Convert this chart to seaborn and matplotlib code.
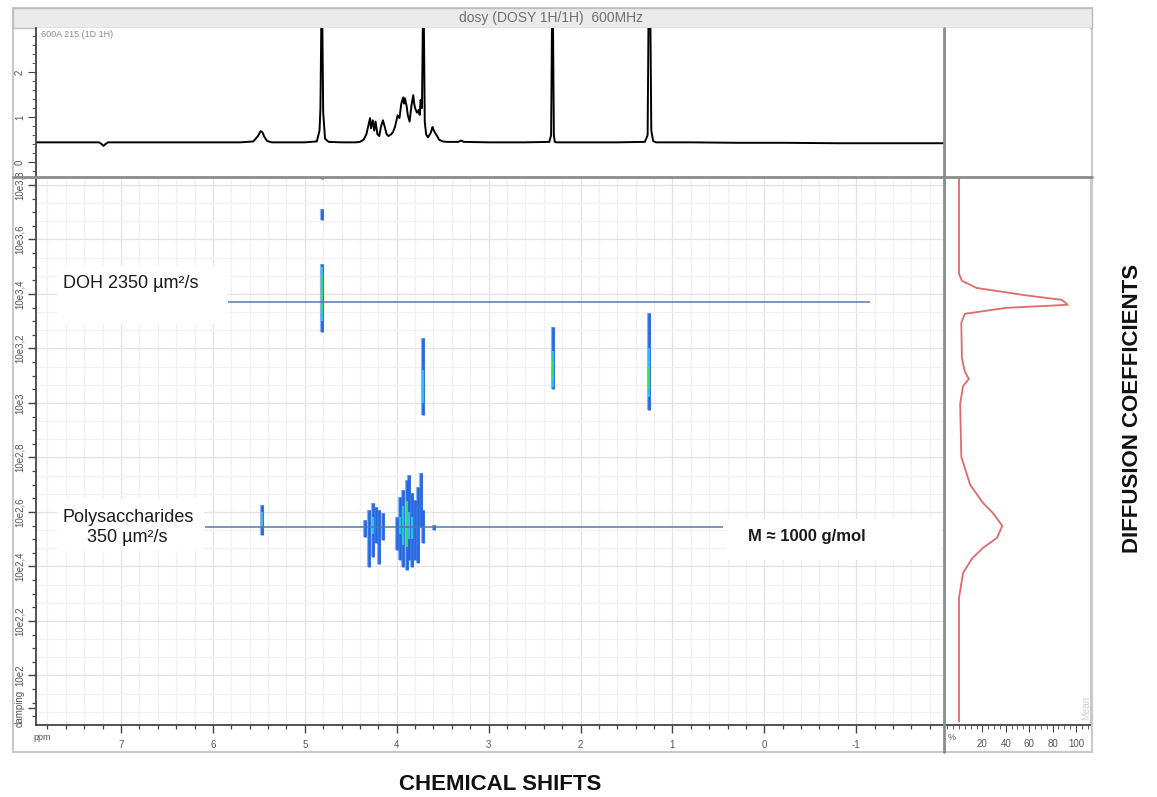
import numpy as np
import pandas as pd
import matplotlib
matplotlib.use("Agg")
import matplotlib.pyplot as plt
import seaborn as sns
from matplotlib.patches import Rectangle
from matplotlib.lines import Line2D
from matplotlib.ticker import MultipleLocator

# ---------------- data ----------------
# 1D 1H spectrum (ppm, intensity) vertices
spec_ppm = [7.92, 7.60, 7.24, 7.21, 7.19, 7.17, 7.14, 6.80, 6.20, 5.70, 5.56, 5.51, 5.48, 5.46, 5.44, 5.41, 5.36,
            5.00, 4.87, 4.84, 4.83, 4.82, 4.81, 4.80, 4.78, 4.74, 4.60, 4.45, 4.40, 4.36, 4.33, 4.31, 4.29, 4.28,
            4.26, 4.245, 4.23, 4.21, 4.19, 4.17, 4.15, 4.13, 4.11, 4.09, 4.06, 4.04, 4.02, 4.00, 3.99, 3.97,
            3.95, 3.93, 3.92, 3.91, 3.89, 3.88, 3.86, 3.84, 3.82, 3.81, 3.80, 3.78, 3.76, 3.75, 3.74, 3.725,
            3.715, 3.705, 3.695, 3.68, 3.66, 3.63, 3.61, 3.60, 3.58, 3.56, 3.54, 3.50, 3.45, 3.33, 3.30, 3.27,
            3.00, 2.60, 2.34, 2.32, 2.31, 2.30, 2.29, 2.28, 2.26, 2.00, 1.60, 1.30, 1.27, 1.26, 1.25, 1.24,
            1.23, 1.21, 1.18, 0.80, 0.30, -0.20, -0.80, -1.40, -1.955]
spec_int = [0.44, 0.44, 0.44, 0.40, 0.36, 0.40, 0.44, 0.44, 0.44, 0.44, 0.46, 0.58, 0.69, 0.66, 0.56, 0.47, 0.44,
            0.44, 0.46, 0.70, 1.20, 3.20, 3.20, 1.10, 0.52, 0.45, 0.44, 0.44, 0.45, 0.50, 0.62, 0.80, 0.98, 0.75,
            0.93, 0.70, 0.90, 0.62, 0.58, 0.80, 0.93, 0.78, 0.62, 0.58, 0.62, 0.67, 0.78, 0.95, 1.04, 0.98,
            1.30, 1.44, 1.30, 1.42, 1.22, 1.05, 0.90, 1.25, 1.49, 1.30, 1.20, 1.10, 1.16, 1.05, 1.38, 1.20,
            3.20, 3.20, 0.90, 0.62, 0.55, 0.65, 0.78, 0.72, 0.64, 0.58, 0.50, 0.46, 0.45, 0.45, 0.48, 0.45,
            0.44, 0.44, 0.45, 0.60, 3.20, 3.20, 0.60, 0.45, 0.44, 0.44, 0.44, 0.45, 0.60, 3.20, 3.20, 3.20,
            0.70, 0.47, 0.44, 0.44, 0.43, 0.43, 0.42, 0.42, 0.42]

# DOSY cross-peak streaks: ppm, log10(D) low, log10(D) high
streak_ppm = [4.815, 4.815, 4.815, 3.71, 2.30, 1.25, 5.47,
              4.345, 4.298, 4.261, 4.225, 4.189, 4.152,
              4.000, 3.964, 3.928, 3.891, 3.866, 3.837, 3.801, 3.765, 3.739, 3.710, 3.594]
streak_lo = [3.26, 3.67, 3.820, 2.956, 3.05, 2.975, 2.516,
             2.508, 2.398, 2.436, 2.485, 2.410, 2.497,
             2.461, 2.424, 2.399, 2.387, 2.424, 2.399, 2.424, 2.412, 2.546, 2.485, 2.534]
streak_hi = [3.51, 3.71, 3.830, 3.24, 3.28, 3.33, 2.626,
             2.571, 2.607, 2.632, 2.619, 2.607, 2.595,
             2.583, 2.656, 2.681, 2.717, 2.736, 2.669, 2.644, 2.693, 2.742, 2.607, 2.552]
# brighter contour cores: ppm, logD low, logD high, level (1 = cyan, 2 = green)
core_ppm = [4.815, 4.815, 3.71, 2.30, 2.30, 1.25, 1.25, 5.47, 4.261, 3.928, 3.891, 3.866, 3.837, 3.964]
core_lo = [3.30, 3.34, 3.00, 3.06, 3.09, 3.02, 3.05, 2.55, 2.52, 2.48, 2.47, 2.50, 2.50, 2.52]
core_hi = [3.50, 3.47, 3.12, 3.19, 3.16, 3.20, 3.13, 2.60, 2.58, 2.62, 2.64, 2.60, 2.58, 2.58]
core_level = [1, 2, 1, 1, 2, 1, 2, 1, 1, 1, 2, 1, 1, 1]

# diffusion projection (intensity %, log10 D)
proj_logd = [3.83, 3.474, 3.448, 3.422, 3.396, 3.378, 3.360, 3.349, 3.327, 3.294, 3.165, 3.114, 3.088,
             3.062, 2.996, 2.802, 2.700, 2.633, 2.596, 2.549, 2.505, 2.468, 2.428, 2.376, 2.284, 1.83]
proj_int = [0.0, 0.0, 2.5, 15.0, 55.0, 88.0, 93.0, 41.0, 5.0, 2.0, 2.5, 5.0, 8.5,
            3.5, 1.0, 2.0, 9.5, 20.5, 29.0, 37.0, 32.5, 20.5, 11.0, 3.5, 0.0, 0.0]

# reference diffusion lines (µm²/s) and their ppm extent
ref_D = [2350, 350]
ref_ppm_from = [5.84, 6.09]
ref_ppm_to = [-1.15, 0.45]

# axis tick labels
main_yticks = [3.8, 3.6, 3.4, 3.2, 3.0, 2.8, 2.6, 2.4, 2.2, 2.0, 1.88]
main_ylabels = ["10e3,8", "10e3,6", "10e3,4", "10e3,2", "10e3", "10e2,8", "10e2,6", "10e2,4",
                "10e2,2", "10e2", "damping"]
ppm_ticks = [7, 6, 5, 4, 3, 2, 1, 0, -1]
spec_yticks = [0, 1, 2]
proj_ticks = [20, 40, 60, 80, 100]

# ---------------- figure ----------------
sns.set_style("white")
plt.rcParams['font.family'] = ['Liberation Sans', 'DejaVu Sans']

W, H = 1157, 797
fig = plt.figure(figsize=(W / 100, H / 100), dpi=100)


def ax_at(x0, y0, x1, y1):
    return fig.add_axes([x0 / W, 1 - y1 / H, (x1 - x0) / W, (y1 - y0) / H])


def fx(px):
    return px / W


def fy(py):
    return 1 - py / H


# outer frame and title bar
fig.add_artist(Rectangle((fx(13), fy(752)), fx(1092) - fx(13), fy(8) - fy(752), transform=fig.transFigure,
                         facecolor='none', edgecolor='#c9c9c9', lw=1.5, zorder=0))
fig.add_artist(Rectangle((fx(13), fy(28)), fx(1092) - fx(13), fy(8) - fy(28), transform=fig.transFigure,
                         facecolor='#ebebeb', edgecolor='#bdbdbd', lw=1.0, zorder=0))
fig.text(fx(551), fy(18), "dosy (DOSY 1H/1H)  600MHz", ha='center', va='center', fontsize=10, color='#6f6f6f')

tick_col = '#555555'
XL = (7.925, -1.955)
YL = (1.818, 3.829)

# ---------- main DOSY axes ----------
ax = ax_at(36, 177, 944, 725)
ax.set_xlim(*XL)
ax.set_ylim(*YL)
# grid
for g in np.arange(-1.8, 7.95, 0.2):
    major = abs(g - round(g)) < 1e-6
    ax.axvline(g, color='#e3e3e3' if major else '#f1f1f1', lw=0.9, zorder=0)
for g in np.arange(1.8, 3.84, 0.2 / 3):
    major = abs(g * 5 - round(g * 5)) < 1e-6
    ax.axhline(g, color='#e3e3e3' if major else '#f1f1f1', lw=0.9, zorder=0)

streaks = pd.DataFrame({"ppm": streak_ppm, "lo": streak_lo, "hi": streak_hi})
cores = pd.DataFrame({"ppm": core_ppm, "lo": core_lo, "hi": core_hi, "level": core_level})
ax.vlines(streaks.ppm, streaks.lo, streaks.hi, colors='#8ab4f2', lw=3.0, zorder=2)
ax.vlines(streaks.ppm, streaks.lo, streaks.hi, colors='#2466e0', lw=1.9, zorder=2)
c1 = cores[cores.level == 1]
c2 = cores[cores.level == 2]
ax.vlines(c1.ppm, c1.lo, c1.hi, colors='#2bc3ea', lw=1.4, zorder=3)
ax.vlines(c2.ppm, c2.lo, c2.hi, colors='#35e05a', lw=1.4, zorder=4)

for d, a, b in zip(ref_D, ref_ppm_from, ref_ppm_to):
    ax.hlines(np.log10(d), a, b, colors='#5577aa', lw=1.1, zorder=5)

ax.set_xticks(ppm_ticks, [str(t) for t in ppm_ticks])
ax.xaxis.set_minor_locator(MultipleLocator(0.2))
ax.set_yticks(main_yticks, main_ylabels, rotation=90, va='center')
ax.yaxis.set_minor_locator(MultipleLocator(0.05))
ax.tick_params(which='both', direction='out', bottom=True, left=True, colors='#444444',
               labelcolor=tick_col, labelsize=7)
ax.tick_params(which='major', length=6, width=1.0)
ax.tick_params(which='minor', length=3, width=0.9)
ax.tick_params(axis='x', which='major', pad=5)
ax.tick_params(axis='y', which='major', pad=2)
for s in ['top', 'right']:
    ax.spines[s].set_visible(False)
for s in ['left', 'bottom']:
    ax.spines[s].set_color('#444444')
    ax.spines[s].set_linewidth(1.3)
ax.set_xlabel("")
ax.set_ylabel("")
fig.text(fx(42), fy(737), "ppm", fontsize=6.5, color=tick_col, ha='center', va='center')

# white annotation boxes
for (x0, y0, x1, y1) in [(57, 266, 228, 324), (57, 499, 204, 551), (727, 519, 940, 560)]:
    ax.add_patch(Rectangle((fx(x0), fy(y1)), fx(x1) - fx(x0), fy(y0) - fy(y1), transform=fig.transFigure,
                           facecolor='white', edgecolor='none', zorder=6, clip_on=False))
fig.text(fx(63), fy(284), "DOH 2350 µm²/s", fontsize=13, color='#1a1a1a', ha='left', va='center', zorder=10)
fig.text(fx(128), fy(517), "Polysaccharides", fontsize=13, color='#1a1a1a', ha='center', va='center', zorder=10)
fig.text(fx(127), fy(538), "350 µm²/s", fontsize=13, color='#1a1a1a', ha='center', va='center', zorder=10)
fig.text(fx(748), fy(537), "M ≈ 1000 g/mol", fontsize=12, fontweight='bold', color='#1a1a1a',
         ha='left', va='center', zorder=10)

# ---------- top 1D spectrum ----------
axs = ax_at(36, 28, 944, 177)
spec = pd.DataFrame({"ppm": spec_ppm, "intensity": spec_int})
sns.lineplot(data=spec, x="ppm", y="intensity", sort=False, estimator=None, color='black', lw=1.4, ax=axs)
axs.set_xlim(*XL)
axs.set_ylim(-0.33, 2.98)
axs.set_xticks([])
axs.set_yticks(spec_yticks, [str(t) for t in spec_yticks], rotation=90, va='center')
axs.yaxis.set_minor_locator(MultipleLocator(0.2))
axs.tick_params(which='both', direction='out', left=True, colors='#444444', labelcolor=tick_col, labelsize=7)
axs.tick_params(which='major', length=6, pad=2)
axs.tick_params(which='minor', length=3)
axs.set_xlabel("")
axs.set_ylabel("")
for s in ['top', 'right', 'bottom']:
    axs.spines[s].set_visible(False)
axs.spines['left'].set_color('#444444')
axs.spines['left'].set_linewidth(1.3)
axs.text(0.005, 0.985, "600A 215 (1D 1H)", transform=axs.transAxes, fontsize=6.5, color='#8a8a8a',
         ha='left', va='top')

# ---------- right projection ----------
axp = ax_at(944, 177, 1090, 725)
proj = pd.DataFrame({"intensity": proj_int, "logD": proj_logd})
sns.lineplot(data=proj, x="intensity", y="logD", sort=False, estimator=None, color='#e06a6a', lw=1.3, ax=axp)
axp.set_ylim(*YL)
axp.set_xlim(-12.8, 112)
axp.set_yticks([])
axp.set_xticks(proj_ticks, [str(t) for t in proj_ticks])
axp.xaxis.set_minor_locator(MultipleLocator(5))
axp.tick_params(which='both', direction='out', bottom=True, colors='#444444', labelcolor=tick_col, labelsize=7)
axp.tick_params(which='major', length=5, pad=5)
axp.tick_params(which='minor', length=3)
axp.set_xlabel("")
axp.set_ylabel("")
for s in ['top', 'left']:
    axp.spines[s].set_visible(False)
axp.spines['right'].set_color('#c9c9c9')
axp.spines['bottom'].set_color('#444444')
axp.spines['bottom'].set_linewidth(1.3)
fig.text(fx(952), fy(737), "%", fontsize=6.5, color=tick_col, ha='center', va='center')
axp.text(0.975, 0.01, "Mean", transform=axp.transAxes, rotation=90, fontsize=7, color='#cfcfcf',
         ha='center', va='bottom')

# top-right empty panel
axe = ax_at(944, 28, 1090, 177)
axe.set_xticks([])
axe.set_yticks([])
for s in axe.spines.values():
    s.set_visible(False)

# separator lines
fig.add_artist(Line2D([fx(13), fx(1092)], [fy(177), fy(177)], transform=fig.transFigure, color='#8c8c8c', lw=2.0))
fig.add_artist(Line2D([fx(944), fx(944)], [fy(28), fy(752)], transform=fig.transFigure, color='#8c8c8c', lw=2.0))

# outer axis titles
fig.text(fx(500), fy(785), "CHEMICAL SHIFTS", fontsize=16, fontweight='bold', color='#111111',
         ha='center', va='center')
fig.text(fx(1133), fy(408), "DIFFUSION COEFFICIENTS", fontsize=16, fontweight='bold', color='#111111',
         ha='center', va='center', rotation=90)

fig.savefig("out.png", dpi=100)
